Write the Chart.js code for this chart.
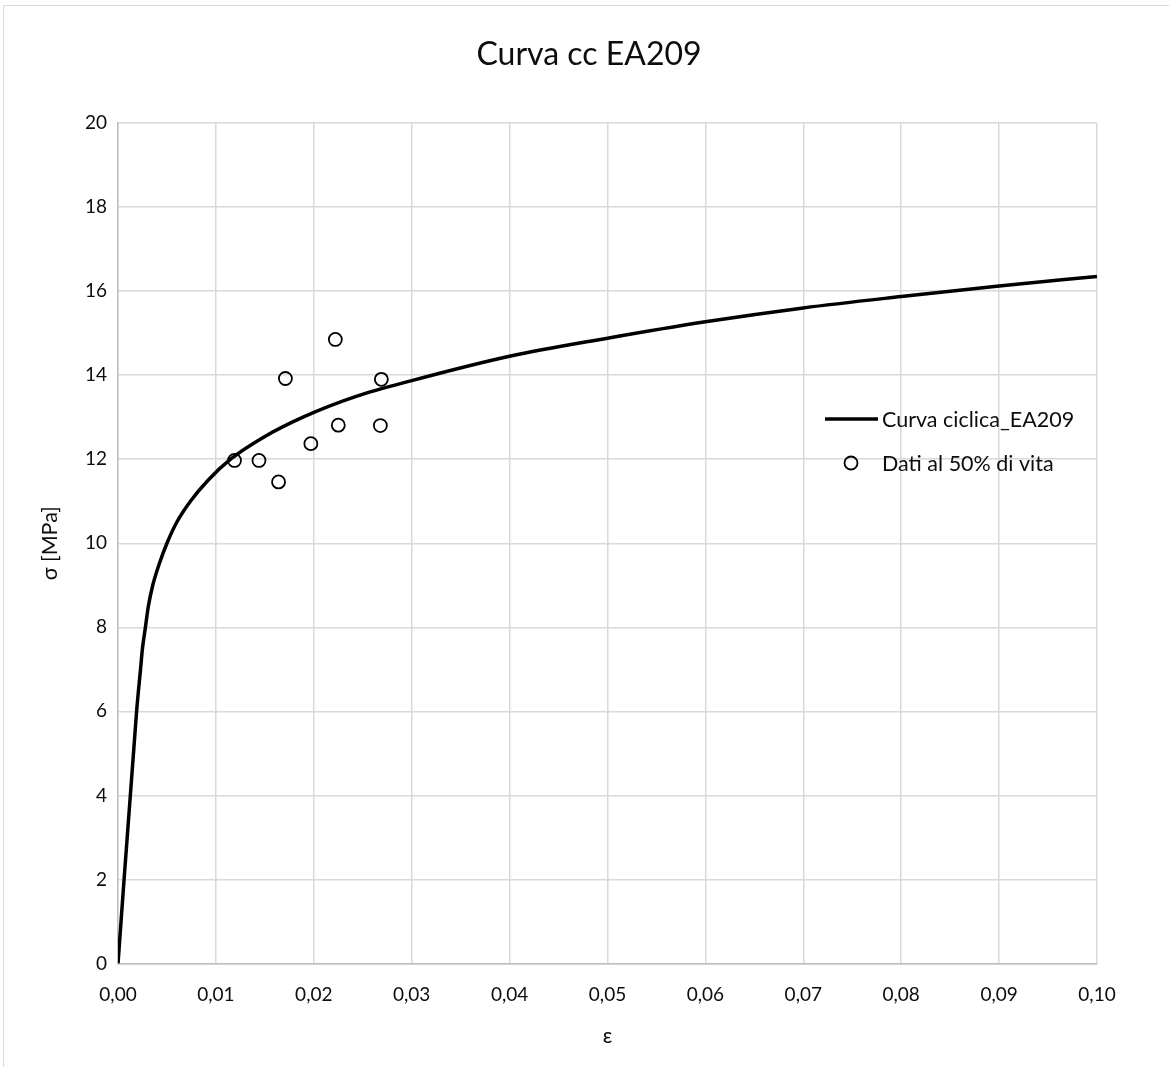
<!DOCTYPE html>
<html>
<head>
<meta charset="utf-8">
<script src="https://cdn.jsdelivr.net/npm/chart.js@4.4.1/dist/chart.umd.min.js"></script>
<style>
  html, body { margin: 0; padding: 0; background: #ffffff; }
  #wrap { position: relative; width: 1169px; height: 1067px; overflow: hidden; }
  #frame { position: absolute; left: 3px; top: 5px; width: 1180px; height: 1080px;
           border: 1px solid #d9d9d9; box-sizing: border-box; pointer-events: none; }
  canvas { position: absolute; left: 0; top: 0; }
</style>
</head>
<body>
<div id="wrap">
  <canvas id="chart" width="1169" height="1067"></canvas>
  <div id="frame"></div>
</div>
<script>
// Cyclic stress-strain curve (strain, stress in MPa)
const curveStrain = [0, 0.0019, 0.0023, 0.0025, 0.0028, 0.0031, 0.00355, 0.0042, 0.0050, 0.0060, 0.0074, 0.0092, 0.0115,
                     0.0147, 0.0189, 0.0244, 0.0300, 0.0400, 0.0500, 0.0600, 0.0700, 0.0800, 0.0900, 0.1000];
const curveStress = [0, 6.0, 7.0, 7.5, 8.0, 8.5, 9.0, 9.5, 10.0, 10.5, 11.0, 11.5, 12.0,
                     12.5, 13.0, 13.5, 13.87, 14.45, 14.88, 15.27, 15.60, 15.87, 16.12, 16.35];

// Measured points at 50% of life
const dataStrain = [0.0119, 0.0144, 0.0164, 0.0171, 0.0197, 0.0222, 0.0225, 0.0268, 0.0269];
const dataStress = [11.97, 11.97, 11.46, 13.92, 12.37, 14.85, 12.81, 12.80, 13.90];

const seriesNames = ['Curva ciclica_EA209', 'Dati al 50% di vita'];
const chartTitle = 'Curva cc EA209';
const xTitle = 'ε';
const yTitle = 'σ [MPa]';

const FONT = 'Lato, "Open Sans", "Noto Sans", sans-serif';
const TEXT = '#0d0d0d';

const toPoints = (xs, ys) => xs.map((x, i) => ({ x: x, y: ys[i] }));

// Legend drawn inside the plot area, to the right
const insideLegend = {
  id: 'insideLegend',
  afterDraw(chart) {
    const ctx = chart.ctx;
    const line = chart.data.datasets[0];
    const pts = chart.data.datasets[1];
    ctx.save();
    ctx.font = '21.5px ' + FONT;
    ctx.fillStyle = TEXT;
    ctx.textBaseline = 'middle';
    ctx.textAlign = 'left';
    // line sample
    ctx.strokeStyle = line.borderColor;
    ctx.lineWidth = line.borderWidth;
    ctx.beginPath();
    ctx.moveTo(825, 419);
    ctx.lineTo(878, 419);
    ctx.stroke();
    ctx.fillText(line.label, 882, 420);
    // marker sample
    ctx.strokeStyle = pts.borderColor;
    ctx.lineWidth = pts.borderWidth;
    ctx.beginPath();
    ctx.arc(851, 463, pts.pointRadius, 0, Math.PI * 2);
    ctx.stroke();
    ctx.fillText(pts.label, 882, 464);
    ctx.restore();
  }
};

// Chart title, centred above the plot
const topTitle = {
  id: 'topTitle',
  afterDraw(chart) {
    const ctx = chart.ctx;
    ctx.save();
    ctx.font = '400 32px ' + FONT;
    ctx.fillStyle = TEXT;
    ctx.textAlign = 'center';
    ctx.textBaseline = 'middle';
    ctx.fillText(chartTitle, 589, 55);
    ctx.restore();
  }
};

new Chart(document.getElementById('chart'), {
  type: 'scatter',
  data: {
    datasets: [
      {
        label: seriesNames[0],
        data: toPoints(curveStrain, curveStress),
        showLine: true,
        borderColor: '#000000',
        borderWidth: 3.5,
        pointRadius: 0,
        cubicInterpolationMode: 'monotone',
        order: 2
      },
      {
        label: seriesNames[1],
        data: toPoints(dataStrain, dataStress),
        showLine: false,
        pointStyle: 'circle',
        pointRadius: 6.5,
        borderWidth: 1.8,
        borderColor: '#000000',
        backgroundColor: 'rgba(0,0,0,0)',
        order: 1
      }
    ]
  },
  options: {
    responsive: false,
    animation: false,
    devicePixelRatio: 1,
    layout: { padding: { left: 0, right: 72, top: 123, bottom: 0 } },
    plugins: {
      legend: { display: false },
      tooltip: { enabled: false },
      title: { display: false }
    },
    scales: {
      x: {
        type: 'linear',
        min: 0,
        max: 0.1,
        afterFit(scale) { scale.height = 103.5; },
        afterBuildTicks(scale) {
          scale.ticks = Array.from({ length: 11 }, (_, i) => ({ value: i / 100 }));
        },
        ticks: {
          padding: 20,
          color: TEXT,
          font: { family: FONT, size: 19 },
          maxRotation: 0,
          callback: (v) => v.toFixed(2).replace('.', ',')
        },
        grid: { color: '#d9d9d9', lineWidth: 1.5, drawTicks: false },
        border: { color: '#bfbfbf', width: 1.5 },
        title: {
          display: true,
          text: xTitle,
          color: TEXT,
          font: { family: FONT, size: 21 },
          padding: { top: 10, bottom: 18 }
        }
      },
      y: {
        type: 'linear',
        min: 0,
        max: 20,
        afterFit(scale) { scale.width = 118; },
        ticks: {
          stepSize: 2,
          padding: 11,
          color: TEXT,
          font: { family: FONT, size: 19 }
        },
        grid: { color: '#d9d9d9', lineWidth: 1.5, drawTicks: false },
        border: { color: '#bfbfbf', width: 1.5 },
        title: {
          display: true,
          text: yTitle,
          color: TEXT,
          font: { family: FONT, size: 21.5 },
          padding: { top: 37, bottom: 10 }
        }
      }
    }
  },
  plugins: [insideLegend, topTitle]
});
</script>
</body>
</html>
